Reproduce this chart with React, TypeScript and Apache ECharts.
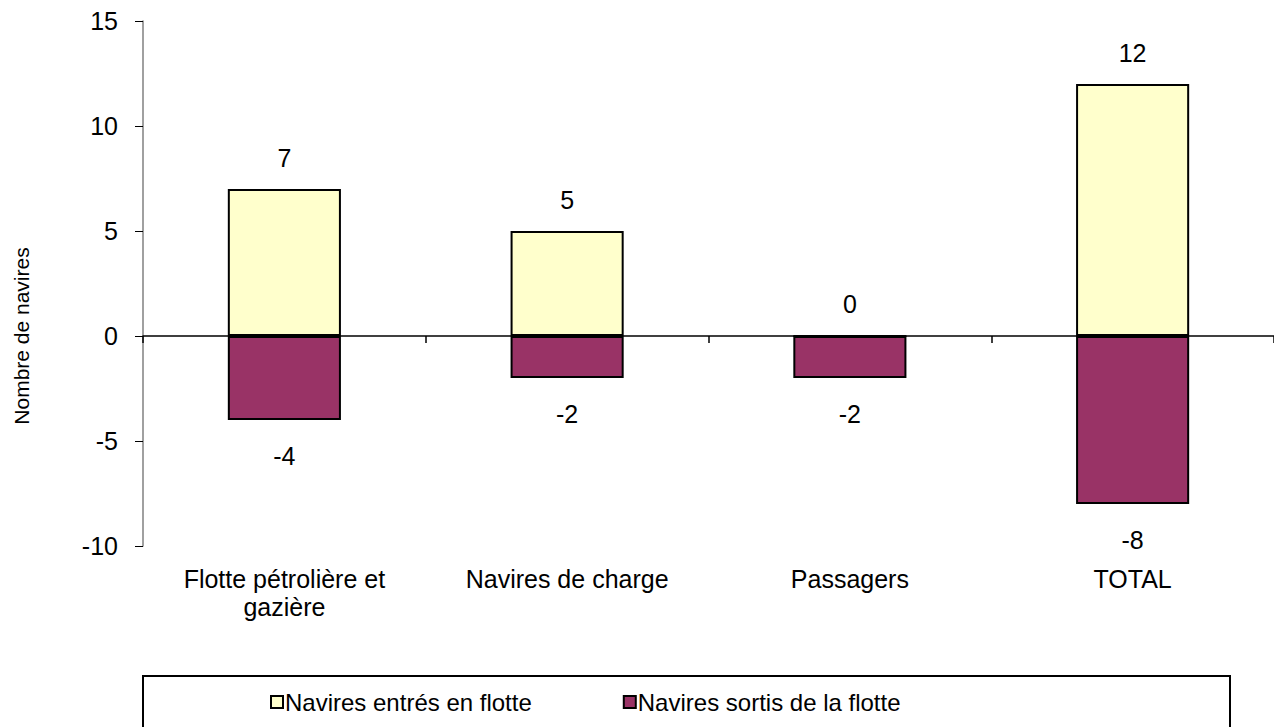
import React, { useEffect, useRef } from "react";
import * as echarts from "echarts";

const categories = ["Flotte pétrolière et\ngazière", "Navires de charge", "Passagers", "TOTAL"];
const entered = [7, 5, 0, 12];
const exited = [-4, -2, -2, -8];
const seriesNames = ["Navires entrés en flotte", "Navires sortis de la flotte"];
const yAxisTitle = "Nombre de navires";

const FONT = "'Liberation Sans', Arial, sans-serif";

export default function App() {
  const ref = useRef<HTMLDivElement>(null);
  useEffect(() => {
    if (!ref.current) return;
    const chart = echarts.init(ref.current, undefined, { renderer: "svg" });
    chart.setOption({
      animation: false,
      backgroundColor: "#ffffff",
      textStyle: { fontFamily: FONT, color: "#000" },
      grid: { left: 143, right: 0, top: 21, bottom: 181, containLabel: false },
      xAxis: [
        {
          type: "category",
          data: categories,
          position: "bottom",
          axisLine: { show: false, onZero: false },
          axisTick: { show: false },
          axisLabel: { color: "#000", fontSize: 25, fontFamily: FONT, margin: 19, lineHeight: 28, interval: 0 },
        },
        {
          type: "category",
          data: categories,
          position: "bottom",
          axisLine: { show: true, onZero: true, lineStyle: { color: "#000", width: 1.5 } },
          axisTick: { show: true, length: 7, lineStyle: { color: "#000", width: 1.5 } },
          axisLabel: { show: false },
        },
      ],
      yAxis: {
        type: "value",
        min: -10,
        max: 15,
        interval: 5,
        axisLine: { show: true, lineStyle: { color: "#808080", width: 1.5 } },
        axisTick: { show: true, length: 8, lineStyle: { color: "#000", width: 1 } },
        axisLabel: { color: "#000", fontSize: 25, fontFamily: FONT, margin: 25 },
        splitLine: { show: false },
      },
      legend: {
        left: 270,
        top: 690,
        padding: 0,
        itemGap: 91,
        itemWidth: 12,
        itemHeight: 12,
        icon: "rect",
        textStyle: { color: "#000", fontSize: 24, fontFamily: FONT, padding: [0, 0, 0, -3] },
        data: seriesNames,
      },
      graphic: [
        {
          type: "rect",
          shape: { x: 143, y: 676, width: 1087, height: 70 },
          style: { fill: "none", stroke: "#000", lineWidth: 2 },
          z: 0,
        },
        {
          type: "text",
          x: 21,
          y: 336,
          rotation: Math.PI / 2,
          style: {
            text: yAxisTitle,
            fill: "#000",
            font: `21px ${FONT}`,
            textAlign: "center",
            textVerticalAlign: "middle",
          },
        },
      ],
      series: [
        {
          name: seriesNames[0],
          type: "bar",
          stack: "s",
          data: entered,
          barWidth: "40%",
          itemStyle: { color: "#FFFFCC", borderColor: "#000", borderWidth: 2 },
          label: { show: true, position: "top", distance: 19, color: "#000", fontSize: 25, fontFamily: FONT },
        },
        {
          name: seriesNames[1],
          type: "bar",
          stack: "s",
          data: exited,
          barWidth: "40%",
          itemStyle: { color: "#993366", borderColor: "#000", borderWidth: 2 },
          label: { show: true, position: "bottom", distance: 23, color: "#000", fontSize: 25, fontFamily: FONT },
        },
      ],
    });
    return () => chart.dispose();
  }, []);
  return (
    <div
      ref={ref}
      style={{ position: "fixed", left: 0, top: 0, width: 1274, height: 727 }}
    />
  );
}
